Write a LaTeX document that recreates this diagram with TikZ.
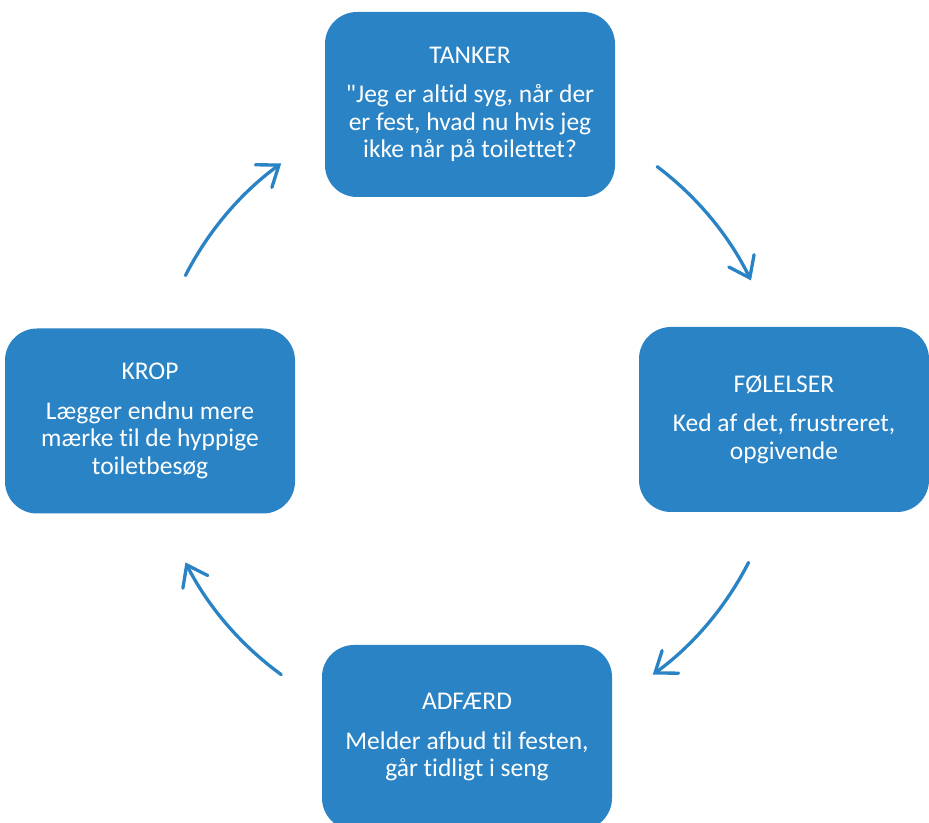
\documentclass[tikz,border=0pt]{standalone}
\usepackage{fontspec}
\newfontfamily\cardfont{Carlito}[Ligatures=NoCommon]
\usetikzlibrary{arrows.meta}
\definecolor{boxblue}{RGB}{42,131,196}
\tikzset{
  card/.style={fill=boxblue, draw=none, rounded corners=32pt,
    minimum width=290pt, minimum height=185pt, inner sep=0pt,
    text=white, align=center, font=\cardfont\fontsize{25.5}{27.5}\selectfont},
  cyc/.style={draw=boxblue, line width=3.3pt,
    -{Straight Barb[length=19pt,width=28pt,line cap=round]}, line cap=round}
}
\begin{document}
\begin{tikzpicture}[x=1pt,y=1pt]
\useasboundingbox (0,0) rectangle (929,822);
\fill[white] (0,0) rectangle (929,822);
\clip (0,0) rectangle (929,822);
\node[card] (tanker) at (470,717.5) {TANKER\\[12pt]"Jeg er altid syg, når der\\er fest, hvad nu hvis jeg\\ikke når på toilettet?};
\node[card] (folelser) at (784,402.5) {FØLELSER\\[12pt]Ked af det, frustreret,\\opgivende};
\node[card] (krop) at (150,401) {KROP\\[12pt]Lægger endnu mere\\mærke til de hyppige\\toiletbesøg};
\node[card] (adfaerd) at (467,84.5) {ADFÆRD\\[12pt]Melder afbud til festen,\\går tidligt i seng};
\coordinate (O) at (467,403);
\coordinate (a1) at ([shift={(53:316pt)}]O);
\coordinate (a2) at ([shift={(-27:316pt)}]O);
\coordinate (a3) at ([shift={(-126:316pt)}]O);
\coordinate (a4) at ([shift={(153:316pt)}]O);
\draw[cyc] (a1) arc[start angle=53, end angle=26, radius=316pt];
\draw[cyc] (a2) arc[start angle=-27, end angle=-54, radius=316pt];
\draw[cyc] (a3) arc[start angle=-126, end angle=-153, radius=316pt];
\draw[cyc] (a4) arc[start angle=153, end angle=126, radius=316pt];
\end{tikzpicture}
\end{document}
